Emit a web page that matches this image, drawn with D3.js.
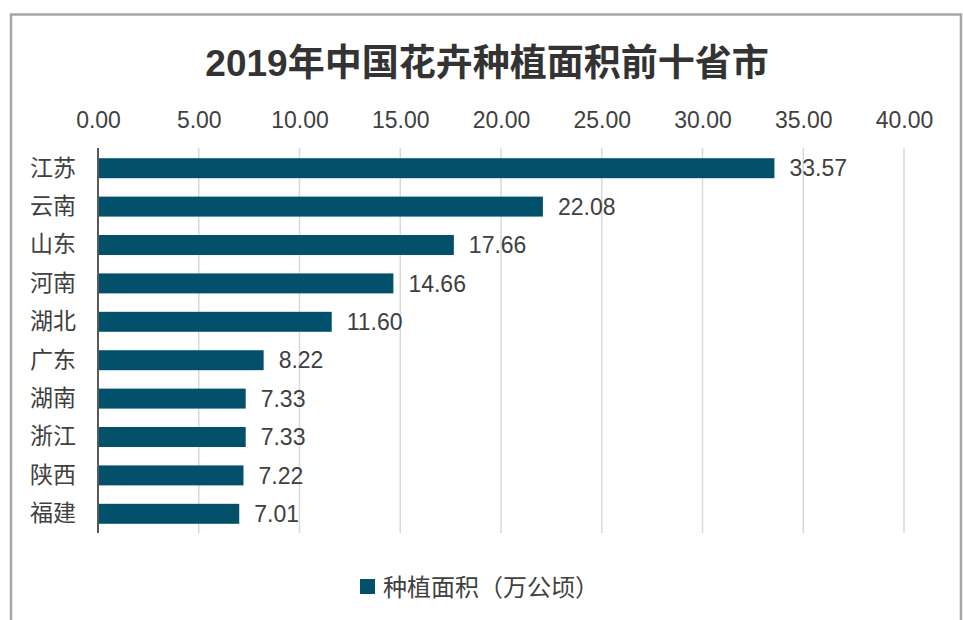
<!DOCTYPE html>
<html>
<head>
<meta charset="utf-8">
<script src="https://cdn.jsdelivr.net/npm/d3@7"></script>
<style>
  body { margin: 0; background: #fff; }
  text { font-family: "Liberation Sans", "Noto Sans CJK SC", sans-serif; }
</style>
</head>
<body>
<div id="chart"></div>
<script>
  // 数据
  var provinces = ['江苏', '云南', '山东', '河南', '湖北', '广东', '湖南', '浙江', '陕西', '福建'];
  var areas = [33.57, 22.08, 17.66, 14.66, 11.60, 8.22, 7.33, 7.33, 7.22, 7.01];
  var ticks = [0, 5, 10, 15, 20, 25, 30, 35, 40];
  var seriesName = '种植面积（万公顷）';

  var width = 963;
  var height = 620;
  var barColor = '#02506a';
  var textColor = '#404040';

  var svg = d3.select('#chart').append('svg')
    .attr('width', width)
    .attr('height', height);

  // 外框
  svg.append('path')
    .attr('d', 'M11,625 L11,14.5 L961,14.5 L961,625')
    .attr('fill', 'none')
    .attr('stroke', '#a6a6a6')
    .attr('stroke-width', 2.5);

  // 标题
  svg.append('text')
    .attr('x', 487)
    .attr('y', 76)
    .attr('text-anchor', 'middle')
    .style('font-size', '37px')
    .style('font-weight', 'bold')
    .attr('fill', '#333')
    .text('2019年中国花卉种植面积前十省市');

  var x = d3.scaleLinear().domain([0, 40]).range([98, 904]);
  var y = d3.scaleBand().domain(provinces).range([149, 533]).paddingInner(0.48).paddingOuter(0.24);

  // 网格线
  svg.append('g')
    .selectAll('line')
    .data(ticks.slice(1))
    .enter()
    .append('line')
    .attr('x1', function (d) { return x(d); })
    .attr('x2', function (d) { return x(d); })
    .attr('y1', 148)
    .attr('y2', 533)
    .attr('stroke', '#d9d9d9')
    .attr('stroke-width', 1.5);

  // 顶部刻度
  var axisTop = svg.append('g')
    .attr('transform', 'translate(0,131)')
    .call(d3.axisTop(x).tickValues(ticks).tickFormat(d3.format('.2f')).tickSize(0));
  axisTop.select('.domain').remove();
  axisTop.selectAll('text')
    .style('font-size', '23px')
    .attr('fill', textColor);

  // 条形
  svg.append('g')
    .selectAll('rect')
    .data(areas)
    .enter()
    .append('rect')
    .attr('x', x(0))
    .attr('y', function (d, i) { return y(provinces[i]); })
    .attr('width', function (d) { return x(d) - x(0); })
    .attr('height', y.bandwidth())
    .attr('fill', barColor);

  // 数值标签
  svg.append('g')
    .selectAll('text')
    .data(areas)
    .enter()
    .append('text')
    .attr('x', function (d) { return x(d) + 15; })
    .attr('y', function (d, i) { return y(provinces[i]) + y.bandwidth() / 2; })
    .attr('dy', '0.36em')
    .style('font-size', '23px')
    .attr('fill', textColor)
    .text(function (d) { return d.toFixed(2); });

  // 左侧类目轴
  var axisLeft = svg.append('g')
    .attr('transform', 'translate(98,0)')
    .call(d3.axisLeft(y).tickSize(0).tickPadding(22));
  axisLeft.select('.domain')
    .attr('d', 'M0,148V533')
    .attr('stroke', '#595959')
    .attr('stroke-width', 2);
  axisLeft.selectAll('text')
    .style('font-size', '23px')
    .style('font-family', '"Noto Sans CJK SC", sans-serif')
    .attr('fill', textColor);

  // 图例
  var legend = svg.append('g').attr('transform', 'translate(360,579)');
  legend.append('rect')
    .attr('width', 15)
    .attr('height', 15)
    .attr('fill', barColor);
  legend.append('text')
    .attr('x', 23)
    .attr('y', 8)
    .attr('dy', '0.36em')
    .style('font-size', '24px')
    .style('font-family', '"Noto Sans CJK SC", sans-serif')
    .attr('fill', textColor)
    .text(seriesName);
</script>
</body>
</html>
